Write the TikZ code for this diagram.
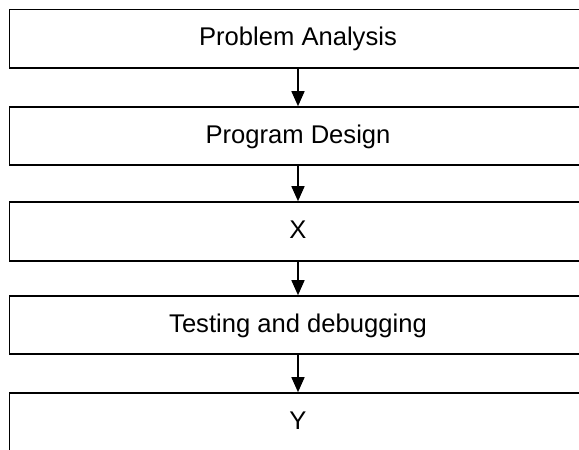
\documentclass[tikz,border=0pt]{standalone}
\usepackage{fontspec}
\setmainfont{Liberation Sans}
\usetikzlibrary{arrows.meta}
\begin{document}
\begin{tikzpicture}[x=1pt,y=-1pt,
  stepbox/.style={draw=black, line width=1.6pt, minimum width=577pt, inner sep=0pt,
    text height=18pt, text depth=4pt, font=\fontsize{25.6}{30}\selectfont},
  flow/.style={line width=1.5pt, -{Triangle[length=15pt,width=13pt]}}]
\useasboundingbox (0,0) rectangle (579,450);
\clip (0,0) rectangle (579,450);
\node[stepbox, minimum height=58.5pt] (a) at (298,38.75) {Problem Analysis};
\node[stepbox, minimum height=58pt] (b) at (298,136) {Program Design};
\node[stepbox, minimum height=59pt] (c) at (298,231.5) {X};
\node[stepbox, minimum height=58pt] (d) at (298,325) {Testing and debugging};
\node[stepbox, minimum height=58pt] (e) at (298,422) {Y};
\draw[flow] (a.south) -- (b.north);
\draw[flow] (b.south) -- (c.north);
\draw[flow] (c.south) -- (d.north);
\draw[flow] (d.south) -- (e.north);
\end{tikzpicture}
\end{document}
